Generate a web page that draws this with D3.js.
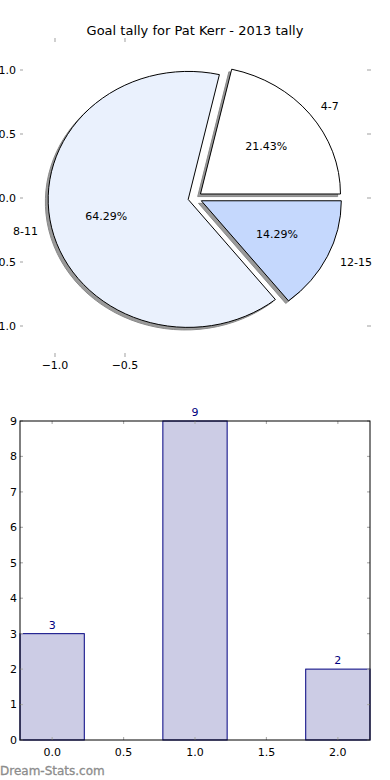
<!DOCTYPE html>
<html><head><meta charset="utf-8">
<script src="https://cdn.jsdelivr.net/npm/d3@7"></script>
<style>body{margin:0;background:#fff}svg{display:block;font-family:"DejaVu Sans",sans-serif}</style>
</head><body><svg id="c" width="390" height="780"></svg>
<script>
const title = "Goal tally for Pat Kerr - 2013 tally";
const categories = ["4-7", "8-11", "12-15"];
const values = [3, 9, 2];
const sliceColors = ["#ffffff", "#eaf1fd", "#c5d8fd"];
const explode = [0.05, 0.05, 0.05];
const pieXTicks = [-1.0, -0.5];
const pieYTicks = [1.0, 0.5, 0.0, -0.5, -1.0];
const barX = [0, 1, 2];
const barXTicks = [0.0, 0.5, 1.0, 1.5, 2.0];
const barYTicks = [0, 1, 2, 3, 4, 5, 6, 7, 8, 9];
const watermark = "Dream-Stats.com";

const svg = d3.select("#c");
const fmt1 = v => (v < 0 ? "\u2212" : "") + Math.abs(v).toFixed(1);

// ---- Pie ----
const px = d3.scaleLinear().domain([-(195-22)/140, (370-195)/140]).range([22, 370]);
const py = d3.scaleLinear().domain([-(355-198)/128, (198-40)/128]).range([355, 40]);
const sx = px(1) - px(0), sy = py(0) - py(1);

svg.append("text").attr("x", 195).attr("y", 35).attr("text-anchor", "middle")
  .attr("font-size", 13).attr("fill", "#000").text(title);

const tickCol = "#b0b0b0";
const pg = svg.append("g");
pieYTicks.forEach(t => {
  pg.append("line").attr("x1", 20).attr("x2", 23).attr("y1", py(t)).attr("y2", py(t)).attr("stroke", tickCol).attr("stroke-width", 1.2);
  pg.append("line").attr("x1", 367).attr("x2", 371).attr("y1", py(t)).attr("y2", py(t)).attr("stroke", tickCol).attr("stroke-width", 1.2);
  pg.append("text").attr("x", 16).attr("y", py(t)).attr("dy", "0.35em").attr("text-anchor", "end")
    .attr("font-size", 11).text(fmt1(t));
});
pieXTicks.forEach(t => {
  pg.append("line").attr("x1", px(t)).attr("x2", px(t)).attr("y1", 38).attr("y2", 42).attr("stroke", tickCol).attr("stroke-width", 1.2);
  pg.append("line").attr("x1", px(t)).attr("x2", px(t)).attr("y1", 353).attr("y2", 357).attr("stroke", tickCol).attr("stroke-width", 1.2);
  pg.append("text").attr("x", px(t)).attr("y", 369).attr("text-anchor", "middle")
    .attr("font-size", 11).text(fmt1(t));
});

const total = d3.sum(values);
const pie = d3.pie().sort(null).value(d => d).startAngle(0).endAngle(2 * Math.PI);
const arcsData = pie(values);
const arcGen = d3.arc().innerRadius(0).outerRadius(1);

const slices = arcsData.map((a, i) => {
  const t1 = a.startAngle, t2 = a.endAngle, mid = (t1 + t2) / 2;
  const ex = explode[i] * Math.cos(mid), ey = explode[i] * Math.sin(mid);
  return {i, t1, t2, mid, ex, ey};
});
const pathFor = s => arcGen({startAngle: Math.PI/2 - s.t1, endAngle: Math.PI/2 - s.t2});

slices.forEach(s => {
  svg.append("path").attr("d", pathFor(s))
    .attr("transform", `translate(${px(s.ex - 0.02)},${py(s.ey - 0.02)}) scale(${sx},${sy})`)
    .attr("fill", "#9a9a9a").attr("stroke", "#8a8a8a").attr("stroke-width", 1)
    .attr("vector-effect", "non-scaling-stroke");
});
slices.forEach(s => {
  svg.append("path").attr("d", pathFor(s))
    .attr("transform", `translate(${px(s.ex)},${py(s.ey)}) scale(${sx},${sy})`)
    .attr("fill", sliceColors[s.i]).attr("stroke", "#000").attr("stroke-width", 1)
    .attr("vector-effect", "non-scaling-stroke");
});
slices.forEach(s => {
  const c = Math.cos(s.mid), sn = Math.sin(s.mid);
  const lx = s.ex + 1.1 * c, ly = s.ey + 1.1 * sn;
  svg.append("text").attr("x", px(lx)).attr("y", py(ly)).attr("dy", "0.35em")
    .attr("text-anchor", lx > 0 ? "start" : "end").attr("font-size", 11).text(categories[s.i]);
  const qx = s.ex + 0.6 * c, qy = s.ey + 0.6 * sn;
  svg.append("text").attr("x", px(qx)).attr("y", py(qy)).attr("dy", "0.35em")
    .attr("text-anchor", "middle").attr("font-size", 11)
    .text((values[s.i] / total * 100).toFixed(2) + "%");
});

// ---- Bar ----
const bx = d3.scaleLinear().domain([-0.225, 2.225]).range([20, 370]);
const by = d3.scaleLinear().domain([0, 9]).range([740, 421]);
const bw = 0.45;
const bg = svg.append("g");
bg.selectAll("rect.bar").data(values).enter().append("rect")
  .attr("x", (d, i) => bx(barX[i] - bw / 2)).attr("width", (d, i) => bx(barX[i] + bw / 2) - bx(barX[i] - bw / 2))
  .attr("y", d => by(d)).attr("height", d => by(0) - by(d))
  .attr("fill", "#ccccE5").attr("stroke", "#000080").attr("stroke-width", 1);
bg.selectAll("text.val").data(values).enter().append("text")
  .attr("x", (d, i) => bx(barX[i])).attr("y", d => by(d) - 5).attr("text-anchor", "middle")
  .attr("font-size", 11).attr("fill", "#000080").text(d => d);

barXTicks.forEach(t => {
  bg.append("line").attr("x1", bx(t)).attr("x2", bx(t)).attr("y1", 421).attr("y2", 424).attr("stroke", tickCol).attr("stroke-width", 1.2);
  bg.append("line").attr("x1", bx(t)).attr("x2", bx(t)).attr("y1", 737).attr("y2", 740).attr("stroke", tickCol).attr("stroke-width", 1.2);
  bg.append("text").attr("x", bx(t)).attr("y", 756).attr("text-anchor", "middle").attr("font-size", 11).text(t.toFixed(1));
});
barYTicks.forEach(t => {
  bg.append("line").attr("x1", 20).attr("x2", 23).attr("y1", by(t)).attr("y2", by(t)).attr("stroke", tickCol).attr("stroke-width", 1.2);
  bg.append("line").attr("x1", 367).attr("x2", 370).attr("y1", by(t)).attr("y2", by(t)).attr("stroke", tickCol).attr("stroke-width", 1.2);
  bg.append("text").attr("x", 17).attr("y", by(t)).attr("dy", "0.35em").attr("text-anchor", "end").attr("font-size", 11).text(t);
});
bg.append("rect").attr("x", 20).attr("y", 421).attr("width", 350).attr("height", 319)
  .attr("fill", "none").attr("stroke", "#000").attr("stroke-width", 1);

svg.append("text").attr("x", 0).attr("y", 775).attr("font-size", 12)
  .attr("fill", "#8c8c8c").attr("stroke", "#8c8c8c").attr("stroke-width", 0.3).text(watermark);
</script></body></html>
